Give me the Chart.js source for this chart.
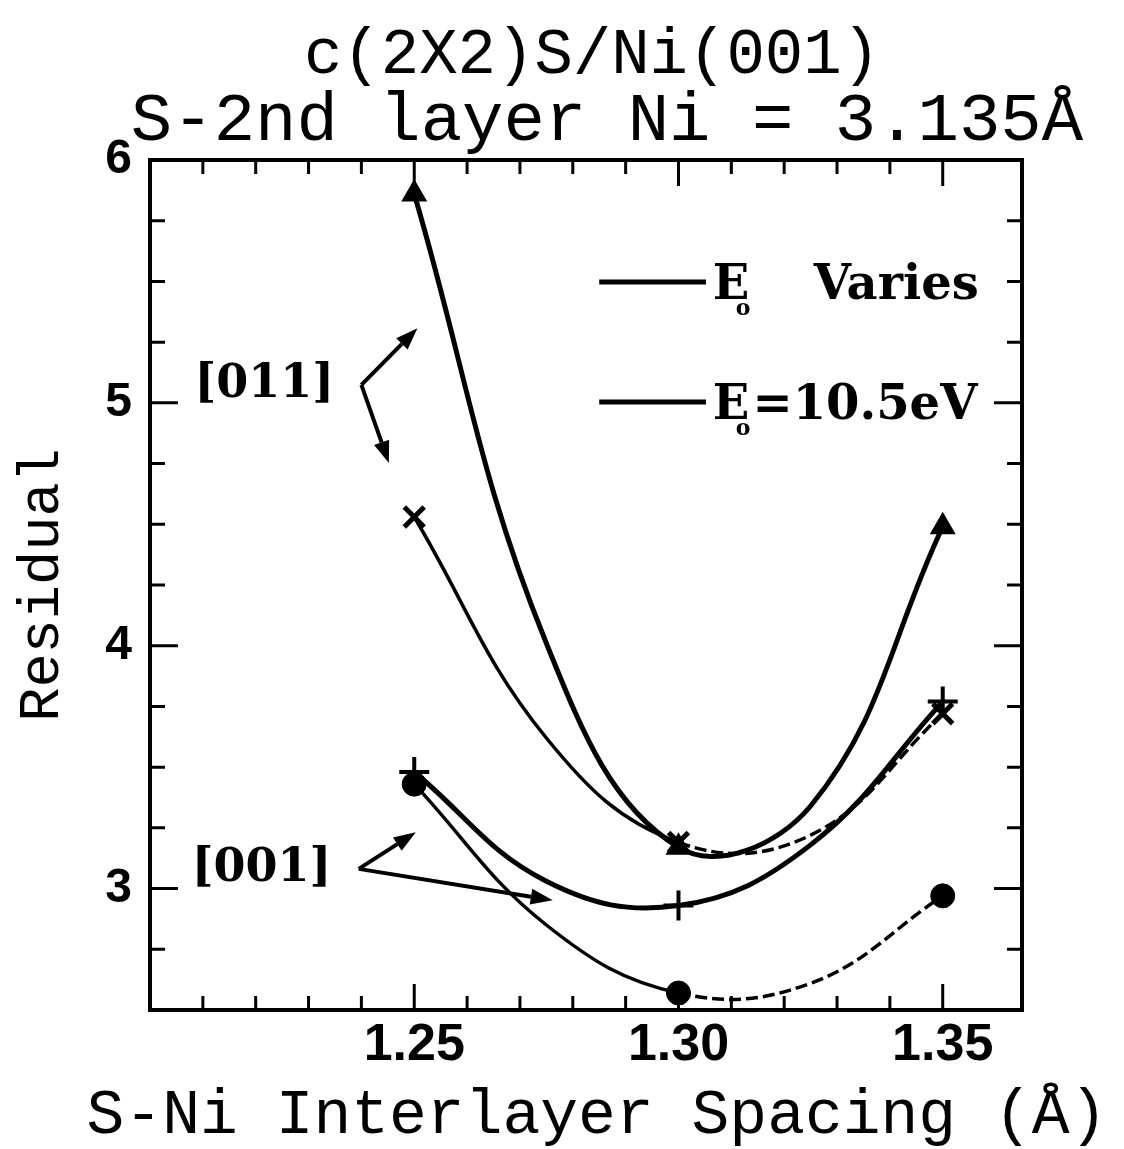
<!DOCTYPE html>
<html><head><meta charset="utf-8">
<script src="https://cdn.jsdelivr.net/npm/chart.js@4/dist/chart.umd.min.js"></script>
<style>html,body{margin:0;padding:0;background:#fff;} #wrap{width:1124px;height:1149px;position:relative;}</style>
</head><body><div id="wrap"><canvas id="c" width="1124" height="1149"></canvas></div>
<script>
// ---- data: measured points (markers) ----
const spacing = [1.25, 1.30, 1.35];
const triangleResidual = [5.86, 3.17, 4.49];
const crossResidual = [4.53, 3.19, 3.72];
const plusResidual = [3.48, 2.93, 3.77];
const circleResidual = [3.43, 2.57, 2.97];
// ---- data: fitted curves ----
const curveSpacing = [1.25, 1.275, 1.30, 1.325, 1.35];
const triangleCurve = [5.86, 4.01, 3.17, 3.34, 4.49];
const crossCurve = [4.53, 3.62, 3.19, 3.22, 3.72];
const plusCurve = [3.48, 3.03, 2.93, 3.18, 3.77];
const circleCurve = [3.43, 2.85, 2.57, 2.61, 2.97];
// ---- labels ----
const xTickLabels = ['1.25', '1.30', '1.35'];
const yTickLabels = ['3', '4', '5', '6'];
const titleLine1 = 'c(2X2)S/Ni(001)';
const titleLine2 = 'S-2nd layer Ni = 3.135Å';
const xTitle = 'S-Ni Interlayer Spacing (Å)';
const yTitle = 'Residual';
const legendTexts = ['Varies', '=10.5eV'];
const annotationTexts = ['[011]', '[001]'];

// ---- annotation placement (data coordinates) ----
const annotationPlacement = {
  labels: [{ x: 1.2216, y: 5.074 }, { x: 1.2211, y: 3.082 }],
  arrows: [
    { from: [1.2400, 5.074], to: [1.2506, 5.307] },
    { from: [1.2400, 5.074], to: [1.2452, 4.752] },
    { from: [1.2395, 3.081], to: [1.2503, 3.232] },
    { from: [1.2395, 3.081], to: [1.2762, 2.952] }
  ],
  legend: [
    { y: 5.498, x0: 1.2850, x1: 1.3052, ex: 1.3065, tx: 1.3256 },
    { y: 5.004, x0: 1.2850, x1: 1.3052, ex: 1.3065, tx: 1.3140 }
  ]
};

const pts = (xs, ys) => xs.map((x, i) => ({ x: x, y: ys[i] }));
const dashRight = { borderDash: ctx => ctx.p0.parsed.x >= 1.30 - 1e-9 ? [12, 5] : undefined };

const textLayer = {
  id: 'textLayer',
  afterDraw(chart) {
    const { ctx } = chart;
    ctx.save();
    ctx.fillStyle = '#000';
    ctx.textAlign = 'center';
    ctx.textBaseline = 'alphabetic';
    ctx.font = '64px "Liberation Mono"';
    ctx.fillText(titleLine1, 592, 73);
    ctx.font = '69px "Liberation Mono"';
    ctx.fillText(titleLine2, 607, 140);
    ctx.font = '63px "Liberation Mono"';
    ctx.fillText(xTitle, 597, 1133);
    ctx.restore();
  }
};

const frameAndExtras = {
  id: 'frameAndExtras',
  afterDatasetsDraw(chart) {
    const { ctx, chartArea: a, scales: { x, y } } = chart;
    ctx.save();
    ctx.strokeStyle = '#000';
    ctx.fillStyle = '#000';
    ctx.lineCap = 'butt';
    ctx.lineWidth = 4;
    ctx.strokeRect(a.left, a.top, a.right - a.left, a.bottom - a.top);
    ctx.lineWidth = 3;
    const eps = 1e-9;
    x.ticks.forEach(t => {
      if (t.value <= x.min + eps || t.value >= x.max - eps) return;
      const px = x.getPixelForValue(t.value);
      const major = xTickLabels.includes(t.value.toFixed(2));
      const len = major ? 26 : 14;
      ctx.beginPath();
      ctx.moveTo(px, a.bottom); ctx.lineTo(px, a.bottom - len);
      ctx.moveTo(px, a.top); ctx.lineTo(px, a.top + len);
      ctx.stroke();
    });
    y.ticks.forEach(t => {
      if (t.value <= y.min + eps || t.value >= y.max - eps) return;
      const py = y.getPixelForValue(t.value);
      const major = yTickLabels.includes(String(t.value));
      const len = major ? 28 : 15;
      ctx.beginPath();
      ctx.moveTo(a.left, py); ctx.lineTo(a.left + len, py);
      ctx.moveTo(a.right, py); ctx.lineTo(a.right - len, py);
      ctx.stroke();
    });
    // annotation labels
    ctx.font = 'bold 46px "DejaVu Serif"';
    ctx.textAlign = 'center';
    ctx.textBaseline = 'middle';
    annotationPlacement.labels.forEach((p, i) => {
      ctx.fillText(annotationTexts[i], x.getPixelForValue(p.x), y.getPixelForValue(p.y));
    });
    // arrows
    ctx.lineWidth = 4;
    annotationPlacement.arrows.forEach(ar => {
      const x0 = x.getPixelForValue(ar.from[0]), y0 = y.getPixelForValue(ar.from[1]);
      const x1 = x.getPixelForValue(ar.to[0]), y1 = y.getPixelForValue(ar.to[1]);
      const ang = Math.atan2(y1 - y0, x1 - x0);
      const hl = 22, hw = 8;
      const bx = x1 - hl * Math.cos(ang), by = y1 - hl * Math.sin(ang);
      ctx.beginPath(); ctx.moveTo(x0, y0); ctx.lineTo(bx, by); ctx.stroke();
      ctx.beginPath();
      ctx.moveTo(x1, y1);
      ctx.lineTo(bx + hw * Math.sin(ang), by - hw * Math.cos(ang));
      ctx.lineTo(bx - hw * Math.sin(ang), by + hw * Math.cos(ang));
      ctx.closePath(); ctx.fill();
    });
    // legend
    annotationPlacement.legend.forEach((l, i) => {
      const py = y.getPixelForValue(l.y);
      ctx.lineWidth = 5;
      ctx.beginPath();
      ctx.moveTo(x.getPixelForValue(l.x0), py);
      ctx.lineTo(x.getPixelForValue(l.x1), py);
      ctx.stroke();
      const ex = x.getPixelForValue(l.ex);
      ctx.textAlign = 'left';
      ctx.textBaseline = 'alphabetic';
      ctx.font = 'bold 48px "DejaVu Serif"';
      ctx.fillText('E', ex, py + 17);
      ctx.font = 'bold 22px "DejaVu Serif"';
      ctx.fillText('o', ex + 23, py + 33);
      ctx.font = 'bold 48px "DejaVu Serif"';
      ctx.fillText(legendTexts[i], x.getPixelForValue(l.tx), py + 17);
    });
    ctx.restore();
  }
};

const curveStyle = (w) => ({ borderColor: '#000', borderWidth: w, pointRadius: 0, tension: 0.4, fill: false });
const markerStyle = { showLine: false, borderColor: '#000', pointBorderColor: '#000', pointBackgroundColor: '#000' };

new Chart(document.getElementById('c'), {
  type: 'line',
  data: {
    datasets: [
      Object.assign({ label: 'triangle fit', data: pts(curveSpacing, triangleCurve) }, curveStyle(5)),
      Object.assign({ label: 'cross fit', data: pts(curveSpacing, crossCurve), segment: dashRight }, curveStyle(3.5)),
      Object.assign({ label: 'plus fit', data: pts(curveSpacing, plusCurve) }, curveStyle(5)),
      Object.assign({ label: 'circle fit', data: pts(curveSpacing, circleCurve), segment: dashRight }, curveStyle(3.5)),
      Object.assign({ label: 'triangle', data: pts(spacing, triangleResidual), pointStyle: 'triangle', pointRadius: 13, pointBorderWidth: 2 }, markerStyle),
      Object.assign({ label: 'cross', data: pts(spacing, crossResidual), pointStyle: 'crossRot', pointRadius: 14, pointBorderWidth: 5 }, markerStyle),
      Object.assign({ label: 'plus', data: pts(spacing, plusResidual), pointStyle: 'cross', pointRadius: 15, pointBorderWidth: 4 }, markerStyle),
      Object.assign({ label: 'circle', data: pts(spacing, circleResidual), pointStyle: 'circle', pointRadius: 12, pointBorderWidth: 1 }, markerStyle)
    ]
  },
  options: {
    responsive: false,
    animation: false,
    devicePixelRatio: 1,
    layout: { padding: { left: 0, right: 102, top: 160, bottom: 0 } },
    plugins: {
      legend: { display: false },
      tooltip: { enabled: false },
      title: { display: false }
    },
    scales: {
      x: {
        type: 'linear', min: 1.20, max: 1.365,
        grid: { display: false, drawTicks: false }, border: { display: false },
        ticks: { stepSize: 0.01, autoSkip: false, maxRotation: 0, padding: 4, color: '#000',
          font: { family: 'Liberation Sans', size: 52, weight: 'bold' },
          callback: v => { const s = Number(v).toFixed(2); return xTickLabels.includes(s) ? s : ''; } },
        title: { display: false },
        afterFit: s => { s.height = 139; }
      },
      y: {
        type: 'linear', min: 2.5, max: 6,
        grid: { display: false, drawTicks: false }, border: { display: false },
        ticks: { stepSize: 0.25, autoSkip: false, padding: 18, color: '#000',
          font: { family: 'Liberation Sans', size: 48, weight: 'bold' },
          callback: v => { const s = String(v); return yTickLabels.includes(s) ? s : ''; } },
        title: { display: true, text: yTitle, color: '#000',
          font: { family: 'Liberation Mono', size: 57, weight: 'normal', lineHeight: 1 }, padding: { top: 14, bottom: 0 } },
        afterFit: s => { s.width = 150; }
      }
    }
  },
  plugins: [frameAndExtras, textLayer]
});
</script>
</body></html>
